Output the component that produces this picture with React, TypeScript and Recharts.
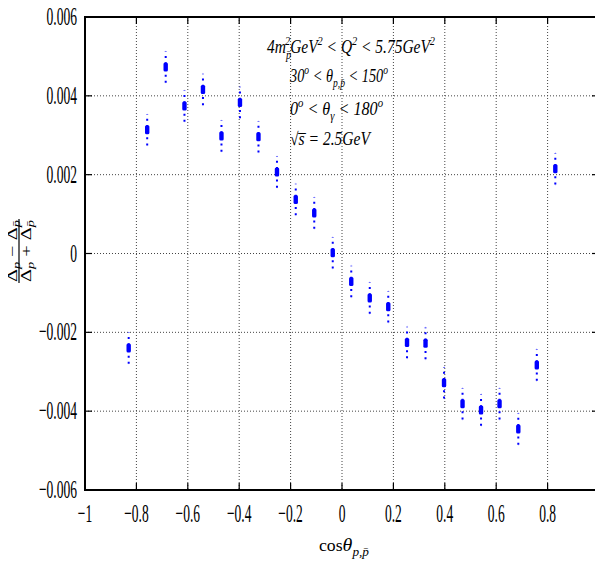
import React from "react";
import {
  ScatterChart,
  Scatter,
  XAxis,
  YAxis,
  CartesianGrid,
  ErrorBar,
  ReferenceArea,
} from "recharts";

// cos(theta) bin centres of the asymmetry measurement
const cosTheta = [
  -0.83, -0.758, -0.686, -0.613, -0.541, -0.469, -0.397, -0.325, -0.253, -0.18,
  -0.108, -0.036, 0.036, 0.108, 0.18, 0.253, 0.325, 0.397, 0.469, 0.541, 0.613,
  0.686, 0.758, 0.83,
];

// charge asymmetry (Δp − Δp̄)/(Δp + Δp̄) per bin
const asymmetry = [
  -0.0024, 0.00314, 0.00473, 0.00374, 0.00416, 0.00298, 0.00383, 0.00296,
  0.00207, 0.00137, 0.00103, 0.00002, -0.00071, -0.00113, -0.00135, -0.00226,
  -0.00228, -0.00328, -0.00381, -0.00397, -0.00381, -0.00445, -0.00283, 0.00215,
];

// statistical uncertainty per bin
const uncertainty = [
  0.0004, 0.0004, 0.0004, 0.0004, 0.0004, 0.0004, 0.0004, 0.0004, 0.0004,
  0.0004, 0.0004, 0.0004, 0.0004, 0.0004, 0.0004, 0.0004, 0.0004, 0.0004,
  0.0004, 0.0004, 0.0004, 0.0004, 0.0004, 0.0004,
];

const xTicks = [-1, -0.8, -0.6, -0.4, -0.2, 0, 0.2, 0.4, 0.6, 0.8, 1];
const xTickLabels = ["−1", "−0.8", "−0.6", "−0.4", "−0.2", "0", "0.2", "0.4", "0.6", "0.8", "1"];
const yTicks = [-0.006, -0.004, -0.002, 0, 0.002, 0.004, 0.006];
const yTickLabels = ["−0.006", "−0.004", "−0.002", "0", "0.002", "0.004", "0.006"];

const data = cosTheta.map((c, i) => ({
  cos: c,
  asym: asymmetry[i],
  err: uncertainty[i],
}));

const SERIF = "'Liberation Serif', 'DejaVu Serif', serif";
const BLUE = "#0000ff";
const W = 603;
const H = 568;
const M = { top: 17, right: 4, bottom: 0, left: 0 };
const Y_AXIS_W = 85;
const X_AXIS_H = 78;
const PLOT_TOP = M.top;
const PLOT_RIGHT = W - M.right;
const PLOT_LEFT = M.left + Y_AXIS_W;
const PLOT_BOTTOM = H - M.bottom - X_AXIS_H;

const labelFor = (ticks: number[], labels: string[], v: number) => {
  const i = ticks.findIndex((t) => Math.abs(t - v) < 1e-9);
  return i >= 0 ? labels[i] : String(v);
};

// bottom axis tick: inward marks on bottom and top frame edges plus the label
const BottomTick = (props: any) => {
  const { x, y, payload } = props;
  return (
    <g>
      <line x1={x} x2={x} y1={y} y2={y - 7} stroke="#000" strokeWidth={1.2} />
      <line x1={x} x2={x} y1={PLOT_TOP} y2={PLOT_TOP + 7} stroke="#000" strokeWidth={1.2} />
      <text
        transform={`translate(${x},${y + 32}) scale(0.52,1)`}
        textAnchor="middle"
        fontSize={26}
        fontFamily={SERIF}
        fill="#000"
      >
        {labelFor(xTicks, xTickLabels, payload.value)}
      </text>
    </g>
  );
};

// left axis tick: inward marks on left and right frame edges plus the label
const LeftTick = (props: any) => {
  const { x, y, payload } = props;
  return (
    <g>
      <line x1={x} x2={x + 7} y1={y} y2={y} stroke="#000" strokeWidth={1.2} />
      <line x1={PLOT_RIGHT} x2={PLOT_RIGHT - 7} y1={y} y2={y} stroke="#000" strokeWidth={1.2} />
      <text
        transform={`translate(${x - 8},${y + 8}) scale(0.52,1)`}
        textAnchor="end"
        fontSize={26}
        fontFamily={SERIF}
        fill="#000"
      >
        {labelFor(yTicks, yTickLabels, payload.value)}
      </text>
    </g>
  );
};

const Marker = (props: any) => {
  const { cx, cy } = props;
  return <rect x={cx - 2.2} y={cy - 4.5} width={4.4} height={9} rx={1.5} fill={BLUE} />;
};

const sub = { fontSize: 12 };
const sup = { fontSize: 12 };

export default function App() {
  return (
    <div style={{ position: "relative", width: W, height: H, margin: -8 }}>
      <ScatterChart width={W} height={H} margin={M} style={{ overflow: "visible" }}>
        <CartesianGrid
          stroke="#444"
          strokeDasharray="1 2"
          horizontalValues={yTicks}
          verticalValues={xTicks}
        />
        <XAxis
          dataKey="cos"
          type="number"
          domain={[-1, 1]}
          ticks={xTicks}
          allowDataOverflow
          height={X_AXIS_H}
          tickSize={0}
          tickMargin={0}
          tickLine={false}
          axisLine={{ stroke: "#000", strokeWidth: 2 }}
          tick={<BottomTick />}
          interval={0}
        />
        <YAxis
          dataKey="asym"
          type="number"
          domain={[-0.006, 0.006]}
          ticks={yTicks}
          allowDataOverflow
          width={Y_AXIS_W}
          tickSize={0}
          tickMargin={0}
          tickLine={false}
          axisLine={{ stroke: "#000", strokeWidth: 2 }}
          tick={<LeftTick />}
          interval={0}
        />
        <ReferenceArea
          x1={-1}
          x2={1}
          y1={-0.006}
          y2={0.006}
          fill="none"
          fillOpacity={0}
          stroke="#000"
          strokeWidth={2}
          ifOverflow="visible"
        />
        <Scatter
          data={data}
          dataKey="asym"
          shape={<Marker />}
          isAnimationActive={false}
        >
          <ErrorBar
            dataKey="err"
            direction="y"
            width={0}
            stroke={BLUE}
            strokeWidth={2}
            strokeDasharray="2 4.2"
            isAnimationActive={false}
          />
        </Scatter>
      </ScatterChart>

      <svg
        width={W}
        height={H}
        style={{ position: "absolute", left: 0, top: 0, pointerEvents: "none", overflow: "visible" }}
        fontFamily={SERIF}
      >
        {/* plot frame */}
        <rect
          x={PLOT_LEFT}
          y={PLOT_TOP}
          width={PLOT_RIGHT - PLOT_LEFT}
          height={PLOT_BOTTOM - PLOT_TOP}
          fill="none"
          stroke="#000"
          strokeWidth={2}
        />

        {/* kinematic cuts */}
        <text x={267} y={53} fontSize={18} fontStyle="italic" textLength={168} lengthAdjust="spacingAndGlyphs">
          4m
          <tspan dy={6} style={sub}>p̄</tspan>
          <tspan dx={-7} dy={-14} style={sup}>2</tspan>
          <tspan dy={8}>GeV</tspan>
          <tspan dy={-8} style={sup}>2</tspan>
          <tspan dy={8}> &lt; Q</tspan>
          <tspan dy={-8} style={sup}>2</tspan>
          <tspan dy={8}> &lt; 5.75GeV</tspan>
          <tspan dy={-8} style={sup}>2</tspan>
        </text>
        <text x={290} y={82} fontSize={18} fontStyle="italic" textLength={98} lengthAdjust="spacingAndGlyphs">
          30
          <tspan dy={-8} style={sup}>o</tspan>
          <tspan dy={8}> &lt; θ</tspan>
          <tspan dy={5} style={sub}>p,p̄</tspan>
          <tspan dy={-5}> &lt; 150</tspan>
          <tspan dy={-8} style={sup}>o</tspan>
        </text>
        <text x={290} y={115} fontSize={18} fontStyle="italic" textLength={93} lengthAdjust="spacingAndGlyphs">
          0
          <tspan dy={-8} style={sup}>o</tspan>
          <tspan dy={8}> &lt; θ</tspan>
          <tspan dy={5} style={sub}>γ</tspan>
          <tspan dy={-5}> &lt; 180</tspan>
          <tspan dy={-8} style={sup}>o</tspan>
        </text>
        <text x={290} y={145} fontSize={18} fontStyle="italic" textLength={80} lengthAdjust="spacingAndGlyphs">
          <tspan fontStyle="normal">√</tspan>s̅ = 2.5GeV
        </text>

        {/* x-axis title */}
        <text x={319} y={551} fontSize={16} textLength={50} lengthAdjust="spacingAndGlyphs">
          cos
          <tspan fontStyle="italic" fontSize={18}>θ</tspan>
          <tspan dy={5} fontStyle="italic" style={sub}>p,p̄</tspan>
        </text>

        {/* y-axis title: rotated fraction */}
        <g transform="translate(19,251) rotate(-90)">
          <text x={0} y={-2} fontSize={14} textAnchor="middle" textLength={62} lengthAdjust="spacingAndGlyphs">
            Δ<tspan dy={3} fontSize={10} fontStyle="italic">p</tspan>
            <tspan dy={-3}> − Δ</tspan>
            <tspan dy={3} fontSize={10} fontStyle="italic">p̄</tspan>
          </text>
          <line x1={-32} x2={32} y1={0} y2={0} stroke="#000" strokeWidth={1.2} />
          <text x={0} y={12} fontSize={14} textAnchor="middle" textLength={62} lengthAdjust="spacingAndGlyphs">
            Δ<tspan dy={3} fontSize={10} fontStyle="italic">p</tspan>
            <tspan dy={-3}> + Δ</tspan>
            <tspan dy={3} fontSize={10} fontStyle="italic">p̄</tspan>
          </text>
        </g>
      </svg>
    </div>
  );
}
